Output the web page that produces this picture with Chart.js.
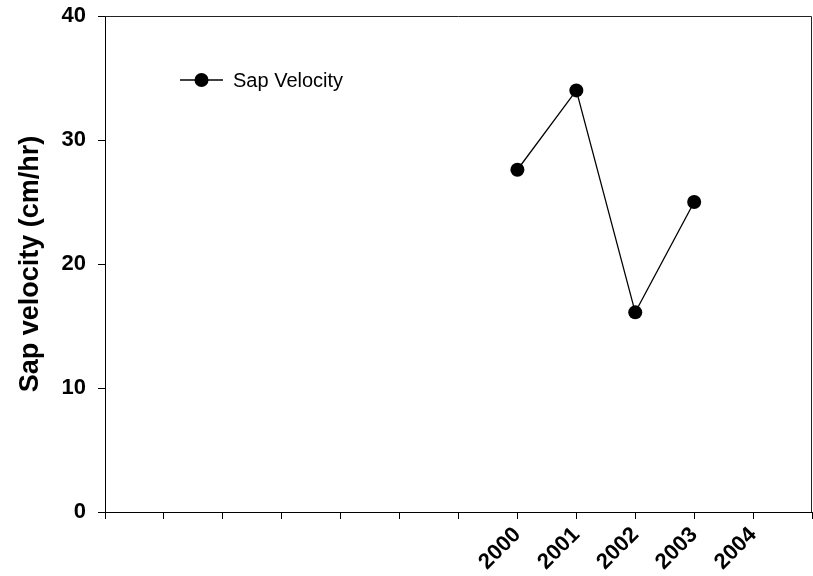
<!DOCTYPE html>
<html>
<head>
<meta charset="utf-8">
<script src="https://cdn.jsdelivr.net/npm/chart.js@4/dist/chart.umd.min.js"></script>
<style>
  html, body { margin: 0; padding: 0; background: #fff; }
  #wrap { width: 813px; height: 576px; }
</style>
</head>
<body>
<div id="wrap"><canvas id="c" width="813" height="576"></canvas></div>
<script>
// Annual mean sap velocity
const years = [2000, 2001, 2002, 2003];
const sapVelocity = [27.6, 34.0, 16.1, 25.0];

// Axis setup
const xTickLabels = ['2000', '2001', '2002', '2003', '2004'];
const xRange = [1993, 2005];
const yTicks = [0, 10, 20, 30, 40];

const seriesName = 'Sap Velocity';
const yTitle = 'Sap velocity (cm/hr)';

const FONT = '"Liberation Sans", Arial, Helvetica, sans-serif';

// Closed frame around the plot area
const framePlugin = {
  id: 'frame',
  afterDatasetsDraw(chart) {
    const { ctx, chartArea: a } = chart;
    ctx.save();
    ctx.strokeStyle = '#222';
    ctx.lineWidth = 1;
    ctx.beginPath();
    ctx.moveTo(a.left, a.top + 0.5);
    ctx.lineTo(a.right - 0.5, a.top + 0.5);
    ctx.lineTo(a.right - 0.5, a.bottom);
    ctx.stroke();
    ctx.restore();
  }
};

// Legend entry drawn inside the plot area
const insideLegend = {
  id: 'insideLegend',
  afterDraw(chart) {
    const { ctx, chartArea: a } = chart;
    const ds = chart.data.datasets[0];
    const x0 = a.left + 75, x1 = a.left + 118, y = a.top + 64;
    ctx.save();
    ctx.strokeStyle = ds.borderColor;
    ctx.lineWidth = ds.borderWidth;
    ctx.beginPath();
    ctx.moveTo(x0, y);
    ctx.lineTo(x1, y);
    ctx.stroke();
    ctx.fillStyle = ds.pointBackgroundColor;
    ctx.beginPath();
    ctx.arc((x0 + x1) / 2, y, ds.pointRadius, 0, Math.PI * 2);
    ctx.fill();
    ctx.fillStyle = '#000';
    ctx.font = '20px ' + FONT;
    ctx.textBaseline = 'middle';
    ctx.textAlign = 'left';
    ctx.fillText(ds.label, x1 + 10, y + 1);
    ctx.restore();
  }
};

new Chart(document.getElementById('c'), {
  type: 'line',
  data: {
    datasets: [{
      label: seriesName,
      data: years.map((yr, i) => ({ x: yr, y: sapVelocity[i] })),
      borderColor: '#000',
      borderWidth: 1.3,
      pointRadius: 7,
      pointHoverRadius: 7,
      pointBackgroundColor: '#000',
      pointBorderColor: '#000',
      pointBorderWidth: 0,
      tension: 0,
      fill: false
    }]
  },
  options: {
    responsive: false,
    animation: false,
    events: [],
    layout: { autoPadding: false, padding: { top: 16, right: 1, left: 0, bottom: 0 } },
    plugins: {
      legend: { display: false },
      tooltip: { enabled: false }
    },
    scales: {
      x: {
        type: 'linear',
        min: xRange[0],
        max: xRange[1],
        afterFit(scale) {
          scale.height = 64;
          scale.paddingLeft = 0;
          scale.paddingRight = 0;
        },
        afterBuildTicks(scale) {
          const t = [];
          for (let v = xRange[0]; v <= xRange[1]; v++) t.push({ value: v });
          scale.ticks = t;
        },
        ticks: {
          autoSkip: false,
          maxRotation: 45,
          minRotation: 45,
          padding: 3,
          color: '#000',
          font: { family: FONT, size: 22, weight: 'bold' },
          callback: (v) => xTickLabels.includes(String(v)) ? String(v) : ''
        },
        grid: {
          drawOnChartArea: false,
          drawTicks: true,
          tickLength: 7,
          color: '#000',
          lineWidth: 1
        },
        border: { display: true, color: '#000', width: 1 }
      },
      y: {
        min: 0,
        max: 40,
        afterFit(scale) {
          scale.width = 105;
          scale.paddingTop = 0;
          scale.paddingBottom = 0;
        },
        afterBuildTicks(scale) {
          scale.ticks = yTicks.map(v => ({ value: v }));
        },
        ticks: {
          padding: 12,
          color: '#000',
          font: { family: FONT, size: 22, weight: 'bold' }
        },
        grid: {
          drawOnChartArea: false,
          drawTicks: true,
          tickLength: 7,
          color: '#000',
          lineWidth: 1
        },
        border: { display: true, color: '#000', width: 1 },
        title: {
          display: true,
          text: yTitle,
          color: '#000',
          padding: { top: 14, bottom: 0 },
          font: { family: FONT, size: 27, weight: 'bold' }
        }
      }
    }
  },
  plugins: [framePlugin, insideLegend]
});
</script>
</body>
</html>
